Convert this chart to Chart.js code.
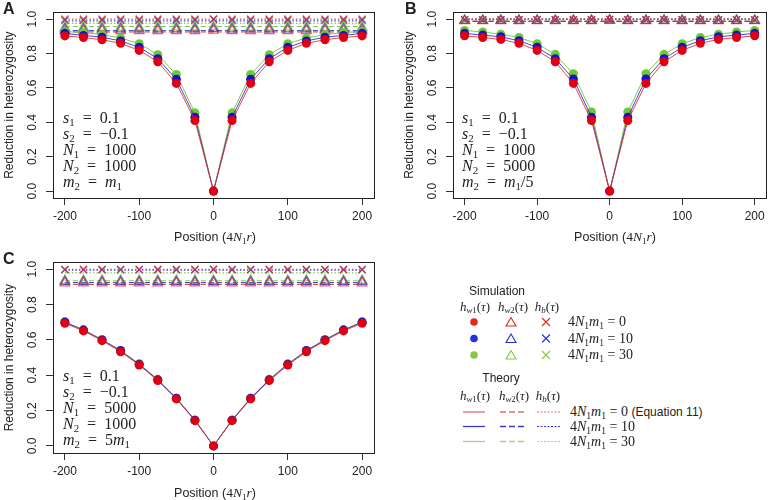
<!DOCTYPE html>
<html>
<head>
<meta charset="utf-8">
<script src="https://cdn.jsdelivr.net/npm/chart.js@4.4.1/dist/chart.umd.min.js"></script>
<style>
  body { margin: 0; width: 773px; height: 500px; position: relative; overflow: hidden; background: #fff;
         font-family: "Liberation Sans", Arial, sans-serif; color: #222; }
  canvas { position: absolute; }
  .t { position: absolute; white-space: nowrap; }
  .c { transform: translate(-50%, -50%); }
  .lm { transform: translate(0, -50%); }
  .m { font-family: "Liberation Serif", "DejaVu Serif", serif; }
  .m sub { font-size: 68%; vertical-align: -0.28em; line-height: 0; }
  .panel-tag { font-weight: bold; font-size: 16px; }
  .note { font-size: 16px; line-height: 16px; }
  .xt { font-size: 12.5px; }
  .xt .m { font-size: 13.5px; }
  .lg { font-size: 12px; }
  .lgh { font-size: 13px; }
  .lgl { font-size: 14px; }
</style>
</head>
<body>
<canvas id="panel-a" width="390" height="250" style="left:0;top:0"></canvas>
<canvas id="panel-b" width="373" height="250" style="left:400px;top:0"></canvas>
<canvas id="panel-c" width="390" height="250" style="left:0;top:250px"></canvas>
<svg id="legend-marks" width="383" height="250" style="position:absolute;left:390px;top:250px"></svg>
<div id="overlay"></div>

<script>
/* ── 数据 ── */
const xPos = [-200, -175, -150, -125, -100, -75, -50, -25, 0, 25, 50, 75, 100, 125, 150, 175, 200];
const xTicks = [-200, -100, 0, 100, 200];
const yTicks = [0, 0.2, 0.4, 0.6, 0.8, 1.0];

// A: hw1 模拟值 (圆点), 4N1m1 = 0 / 10 / 30
const hw1A_m0  = [0.902, 0.893, 0.880, 0.859, 0.818, 0.752, 0.626, 0.410, 0, 0.410, 0.626, 0.752, 0.818, 0.859, 0.880, 0.893, 0.902];
const hw1A_m10 = [0.917, 0.905, 0.895, 0.873, 0.836, 0.770, 0.650, 0.430, 0, 0.430, 0.650, 0.770, 0.836, 0.873, 0.895, 0.905, 0.917];
const hw1A_m30 = [0.928, 0.922, 0.910, 0.890, 0.857, 0.793, 0.678, 0.455, 0, 0.455, 0.678, 0.793, 0.857, 0.890, 0.910, 0.922, 0.928];
const hw2A_m0  = [0.932, 0.932, 0.932, 0.932, 0.932, 0.932, 0.932, 0.932, 0.934, 0.932, 0.932, 0.932, 0.932, 0.932, 0.932, 0.932, 0.932];
const hw2A_m10 = [0.942, 0.942, 0.942, 0.942, 0.942, 0.942, 0.942, 0.942, 0.944, 0.942, 0.942, 0.942, 0.942, 0.942, 0.942, 0.942, 0.942];
const hw2A_m30 = [0.952, 0.952, 0.952, 0.952, 0.952, 0.952, 0.952, 0.952, 0.954, 0.952, 0.952, 0.952, 0.952, 0.952, 0.952, 0.952, 0.952];
const hbA_m0   = [1.000, 1.000, 1.000, 1.000, 1.000, 1.000, 1.000, 1.000, 1.000, 1.000, 1.000, 1.000, 1.000, 1.000, 1.000, 1.000, 1.000];
const hbA_m10  = [0.995, 0.995, 0.995, 0.995, 0.995, 0.995, 0.995, 0.995, 0.999, 0.995, 0.995, 0.995, 0.995, 0.995, 0.995, 0.995, 0.995];
const hbA_m30  = [0.990, 0.990, 0.990, 0.990, 0.990, 0.990, 0.990, 0.990, 0.998, 0.990, 0.990, 0.990, 0.990, 0.990, 0.990, 0.990, 0.990];
const thW2A = [0.925, 0.933, 0.957];   // 理论 hw2 (虚线)
const thBA  = [1.000, 0.990, 0.975];   // 理论 hb (点线)

// B
const hw1B_m0  = [0.903, 0.893, 0.882, 0.859, 0.818, 0.752, 0.626, 0.410, 0, 0.410, 0.626, 0.752, 0.818, 0.859, 0.882, 0.893, 0.903];
const hw1B_m10 = [0.917, 0.907, 0.897, 0.874, 0.836, 0.770, 0.652, 0.430, 0, 0.430, 0.652, 0.770, 0.836, 0.874, 0.897, 0.907, 0.917];
const hw1B_m30 = [0.934, 0.925, 0.912, 0.893, 0.857, 0.795, 0.682, 0.460, 0, 0.460, 0.682, 0.795, 0.857, 0.893, 0.912, 0.925, 0.934];
const hw2B_m0  = [0.990, 0.990, 0.990, 0.990, 0.990, 0.990, 0.990, 0.990, 0.992, 0.990, 0.990, 0.990, 0.990, 0.990, 0.990, 0.990, 0.990];
const hw2B_m10 = [0.991, 0.991, 0.991, 0.991, 0.991, 0.991, 0.991, 0.991, 0.993, 0.991, 0.991, 0.991, 0.991, 0.991, 0.991, 0.991, 0.991];
const hw2B_m30 = [0.992, 0.992, 0.992, 0.992, 0.992, 0.992, 0.992, 0.992, 0.994, 0.992, 0.992, 0.992, 0.992, 0.992, 0.992, 0.992, 0.992];
const hbB_m0   = [0.996, 0.996, 0.996, 0.996, 0.996, 0.996, 0.996, 0.996, 0.998, 0.996, 0.996, 0.996, 0.996, 0.996, 0.996, 0.996, 0.996];
const hbB_m10  = [0.996, 0.996, 0.996, 0.996, 0.996, 0.996, 0.996, 0.996, 0.998, 0.996, 0.996, 0.996, 0.996, 0.996, 0.996, 0.996, 0.996];
const hbB_m30  = [0.996, 0.996, 0.996, 0.996, 0.996, 0.996, 0.996, 0.996, 0.998, 0.996, 0.996, 0.996, 0.996, 0.996, 0.996, 0.996, 0.996];
const thW2B = [0.987, 0.987, 0.987];
const thBB  = [1.000, 1.000, 1.000];

// C
const hw1C_m0  = [0.694, 0.651, 0.596, 0.533, 0.458, 0.370, 0.266, 0.143, 0, 0.143, 0.266, 0.370, 0.458, 0.533, 0.596, 0.651, 0.694];
const hw1C_m10 = [0.700, 0.657, 0.600, 0.540, 0.462, 0.374, 0.270, 0.146, 0, 0.146, 0.270, 0.374, 0.462, 0.540, 0.600, 0.657, 0.700];
const hw1C_m30 = [0.704, 0.655, 0.603, 0.538, 0.465, 0.377, 0.270, 0.147, 0, 0.147, 0.270, 0.377, 0.465, 0.538, 0.603, 0.655, 0.704];
const hw2C_m0  = [0.922, 0.922, 0.922, 0.922, 0.922, 0.922, 0.922, 0.922, 0.922, 0.922, 0.922, 0.922, 0.922, 0.922, 0.922, 0.922, 0.922];
const hw2C_m10 = [0.930, 0.930, 0.930, 0.930, 0.930, 0.930, 0.930, 0.930, 0.930, 0.930, 0.930, 0.930, 0.930, 0.930, 0.930, 0.930, 0.930];
const hw2C_m30 = [0.936, 0.936, 0.936, 0.936, 0.936, 0.936, 0.936, 0.936, 0.936, 0.936, 0.936, 0.936, 0.936, 0.936, 0.936, 0.936, 0.936];
const hbC_m0   = [1.000, 1.000, 1.000, 1.000, 1.000, 1.000, 1.000, 1.000, 1.000, 1.000, 1.000, 1.000, 1.000, 1.000, 1.000, 1.000, 1.000];
const hbC_m10  = [0.998, 0.998, 0.998, 0.998, 0.998, 0.998, 0.998, 0.998, 0.999, 0.998, 0.998, 0.998, 0.998, 0.998, 0.998, 0.998, 0.998];
const hbC_m30  = [0.995, 0.995, 0.995, 0.995, 0.995, 0.995, 0.995, 0.995, 0.999, 0.995, 0.995, 0.995, 0.995, 0.995, 0.995, 0.995, 0.995];
const thW2C = [0.915, 0.925, 0.935];
const thBC  = [1.000, 0.995, 0.980];

const notesA = ['<i>s</i><sub>1</sub>&ensp;=&ensp;0.1', '<i>s</i><sub>2</sub>&ensp;=&ensp;−0.1', '<i>N</i><sub>1</sub>&ensp;=&ensp;1000', '<i>N</i><sub>2</sub>&ensp;=&ensp;1000', '<i>m</i><sub>2</sub>&ensp;=&ensp;<i>m</i><sub>1</sub>'];
const notesB = ['<i>s</i><sub>1</sub>&ensp;=&ensp;0.1', '<i>s</i><sub>2</sub>&ensp;=&ensp;−0.1', '<i>N</i><sub>1</sub>&ensp;=&ensp;1000', '<i>N</i><sub>2</sub>&ensp;=&ensp;5000', '<i>m</i><sub>2</sub>&ensp;=&ensp;<i>m</i><sub>1</sub>/5'];
const notesC = ['<i>s</i><sub>1</sub>&ensp;=&ensp;0.1', '<i>s</i><sub>2</sub>&ensp;=&ensp;−0.1', '<i>N</i><sub>1</sub>&ensp;=&ensp;5000', '<i>N</i><sub>2</sub>&ensp;=&ensp;1000', '<i>m</i><sub>2</sub>&ensp;=&ensp;5<i>m</i><sub>1</sub>'];

const migLabels = ['4<i>N</i><sub>1</sub><i>m</i><sub>1</sub> = 0', '4<i>N</i><sub>1</sub><i>m</i><sub>1</sub> = 10', '4<i>N</i><sub>1</sub><i>m</i><sub>1</sub> = 30'];
const colHeaders = ['<i>h</i><sub><i>w</i>1</sub>(<i>τ</i>)', '<i>h</i><sub><i>w</i>2</sub>(<i>τ</i>)', '<i>h<sub>b</sub></i>(<i>τ</i>)'];

/* ── 样式 ── */
const COL = ['#e00012', '#1414cd', '#6ec837'];
const COL_MARK = ['rgba(226,40,60,0.75)', 'rgba(40,40,200,0.7)', 'rgba(110,200,55,0.8)'];
const COL_LINE = ['rgba(226,40,40,0.85)', 'rgba(40,40,200,0.85)', 'rgba(110,200,55,0.9)'];
const LEG_DOT = ['#e3281c', '#2233dd', '#86c943'];
const LEG_LINE = ['#e26d6d', '#3a3ad2', '#a9d27a'];

const boxPlugin = {
    id: 'box',
    afterDraw(chart) {
        const { ctx, chartArea: a } = chart;
        ctx.save();
        ctx.strokeStyle = '#222';
        ctx.lineWidth = 1;
        ctx.strokeRect(Math.round(a.left) + 0.5, Math.round(a.top) + 0.5,
            Math.round(a.right - a.left), Math.round(a.bottom - a.top));
        ctx.restore();
    },
};

function pts(ys) { return ys.map((y, i) => ({ x: xPos[i], y })); }
function flat(v) { return [{ x: -200, y: v }, { x: 200, y: v }]; }

function makePanel(id, hw1, hw2, hb, thW2, thB, pad, xH) {
    const ds = [];
    // 红色画在最上层: Chart.js 先画后面的数据集
    hw1.forEach((ys, k) => ds.push({
        data: pts(ys), showLine: true, borderColor: COL_LINE[k], borderWidth: 1,
        pointRadius: 4.5, pointBackgroundColor: COL[k], pointBorderWidth: 0, tension: 0,
    }));
    hw2.forEach((ys, k) => ds.push({
        data: pts(ys), showLine: false, pointStyle: 'triangle', pointRadius: 5.5,
        pointBackgroundColor: 'transparent', pointBorderColor: COL_MARK[k], pointBorderWidth: 1.2,
    }));
    hb.forEach((ys, k) => ds.push({
        data: pts(ys), showLine: false, pointStyle: 'crossRot', pointRadius: 5,
        pointBorderColor: COL_MARK[k], pointBorderWidth: 1.2,
    }));
    thW2.forEach((v, k) => ds.push({
        data: flat(v), showLine: true, borderColor: COL_LINE[k], borderWidth: 1.2,
        borderDash: [5, 3], pointRadius: 0,
    }));
    thB.forEach((v, k) => ds.push({
        data: flat(v), showLine: true, borderColor: COL_LINE[k], borderWidth: 1.2,
        borderDash: [1.5, 2], pointRadius: 0,
    }));

    return new Chart(document.getElementById(id), {
        type: 'scatter',
        data: { datasets: ds },
        options: {
            responsive: false,
            animation: false,
            devicePixelRatio: 1,
            layout: { padding: pad },
            plugins: { legend: { display: false }, tooltip: { enabled: false } },
            scales: {
                x: {
                    type: 'linear', min: -216, max: 216,
                    afterBuildTicks: s => { s.ticks = xTicks.map(v => ({ value: v })); },
                    afterFit: s => { s.height = xH; },
                    grid: { drawOnChartArea: false, drawTicks: true, tickLength: 7, color: '#333' },
                    border: { display: false },
                    ticks: { color: '#222', font: { family: 'Liberation Sans', size: 12 }, padding: 4, maxRotation: 0,
                             callback: v => String(v) },
                },
                y: {
                    type: 'linear', min: -0.04, max: 1.04,
                    afterBuildTicks: s => { s.ticks = yTicks.map(v => ({ value: v })); },
                    afterFit: s => { s.width = 53; },
                    grid: { drawOnChartArea: false, drawTicks: true, tickLength: 7, color: '#333' },
                    border: { display: false },
                    title: { display: true, text: 'Reduction in heterozygosity', color: '#222',
                             font: { family: 'Liberation Sans', size: 12 }, padding: { top: 2, bottom: 0 } },
                    ticks: { color: '#222', font: { family: 'Liberation Sans', size: 12 }, padding: 5,
                             minRotation: 90, maxRotation: 90, crossAlign: 'center',
                             callback: v => v.toFixed(1) },
                },
            },
        },
        plugins: [boxPlugin],
    });
}

makePanel('panel-a', [hw1A_m0, hw1A_m10, hw1A_m30], [hw2A_m0, hw2A_m10, hw2A_m30], [hbA_m0, hbA_m10, hbA_m30],
    thW2A, thBA, { left: 0, top: 6, right: 16, bottom: 0 }, 52);
makePanel('panel-b', [hw1B_m0, hw1B_m10, hw1B_m30], [hw2B_m0, hw2B_m10, hw2B_m30], [hbB_m0, hbB_m10, hbB_m30],
    thW2B, thBB, { left: 0, top: 6, right: 1, bottom: 0 }, 52);
makePanel('panel-c', [hw1C_m0, hw1C_m10, hw1C_m30], [hw2C_m0, hw2C_m10, hw2C_m30], [hbC_m0, hbC_m10, hbC_m30],
    thW2C, thBC, { left: 0, top: 12, right: 16, bottom: 0 }, 47);

/* ── 文字 ── */
const ov = document.getElementById('overlay');
function addText(html, x, y, cls) {
    const d = document.createElement('div');
    d.className = 't ' + cls;
    d.style.left = x + 'px';
    d.style.top = y + 'px';
    d.innerHTML = html;
    ov.appendChild(d);
}

addText('A', 3, 0, 'panel-tag');
addText('B', 405, 0, 'panel-tag');
addText('C', 3, 250, 'panel-tag');

const xTitle = 'Position (<span class="m">4<i>N</i><sub>1</sub><i>r</i></span>)';
addText(xTitle, 215, 237, 'c xt');
addText(xTitle, 615, 237, 'c xt');
addText(xTitle, 215, 493, 'c xt');

addText(notesA.join('<br>'), 63, 110, 'm note');
addText(notesB.join('<br>'), 462, 110, 'm note');
addText(notesC.join('<br>'), 63, 368, 'm note');

// 图例
addText('Simulation', 497, 291, 'c lg');
addText('Theory', 501, 378, 'c lg');
const hdrSim = [475, 513, 547], hdrTh = [475, 514, 548];
colHeaders.forEach((h, i) => {
    addText(h, hdrSim[i], 307, 'c m lgh');
    addText(h, hdrTh[i], 396, 'c m lgh');
});
const rowSim = [322, 338.5, 355], rowTh = [412, 426.5, 441.5];
migLabels.forEach((l, k) => {
    addText(l, 568, rowSim[k], 'lm m lgl');
    addText(l + (k === 0 ? ' <span style="font-family:Liberation Sans;font-size:12px">(Equation 11)</span>' : ''),
        570, rowTh[k], 'lm m lgl');
});

const svg = document.getElementById('legend-marks');
let s = '';
const ox = 390, oy = 250;
rowSim.forEach((y, k) => {
    const yy = y - oy;
    s += `<circle cx="${474 - ox}" cy="${yy}" r="3.8" fill="${LEG_DOT[k]}"/>`;
    const tx = 511 - ox;
    s += `<polygon points="${tx - 5},${yy + 4} ${tx + 5},${yy + 4} ${tx},${yy - 4.5}" fill="none" stroke="${LEG_DOT[k]}" stroke-width="1.1"/>`;
    const cx = 546 - ox;
    s += `<path d="M${cx - 4},${yy - 4}L${cx + 4},${yy + 4}M${cx - 4},${yy + 4}L${cx + 4},${yy - 4}" stroke="${LEG_DOT[k]}" stroke-width="1.1"/>`;
});
rowTh.forEach((y, k) => {
    const yy = y - oy;
    s += `<line x1="${463 - ox}" x2="${485 - ox}" y1="${yy}" y2="${yy}" stroke="${LEG_LINE[k]}" stroke-width="1.3"/>`;
    s += `<line x1="${500 - ox}" x2="${526 - ox}" y1="${yy}" y2="${yy}" stroke="${LEG_LINE[k]}" stroke-width="1.3" stroke-dasharray="6 3"/>`;
    s += `<line x1="${537 - ox}" x2="${560 - ox}" y1="${yy}" y2="${yy}" stroke="${LEG_LINE[k]}" stroke-width="1.1" stroke-dasharray="2 1.5"/>`;
});
svg.innerHTML = s;
</script>
</body>
</html>
